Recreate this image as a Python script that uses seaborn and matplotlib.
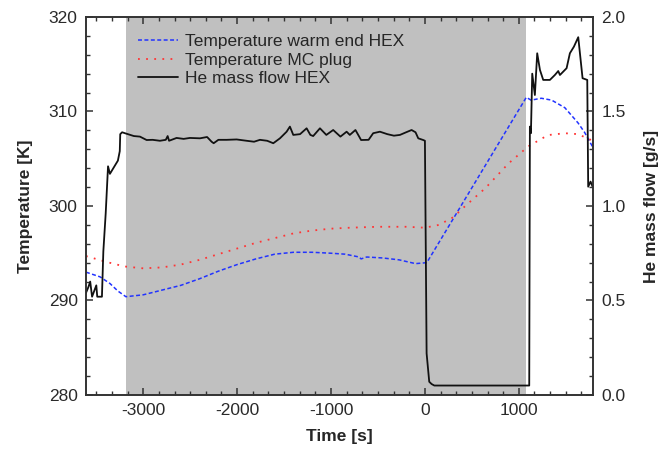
import pandas as pd
import matplotlib
matplotlib.use("Agg")
import matplotlib.pyplot as plt
from matplotlib.ticker import MultipleLocator, FormatStrFormatter
import seaborn as sns

# --- données ---
# Température côté chaud HEX [K]
t_warm = [-3610, -3460, -3355, -3270, -3185, -3000, -2800, -2600, -2400, -2200,
          -2000, -1800, -1600, -1400, -1200, -1000, -850, -700, -680, -620,
          -450, -275, -100, 20, 1080, 1130, 1240, 1350, 1490, 1630, 1700, 1789]
T_warm = [293.0, 292.5, 291.8, 291.0, 290.4, 290.6, 291.1, 291.6, 292.3, 293.1,
          293.8, 294.4, 294.9, 295.1, 295.1, 295.0, 294.9, 294.6, 294.4, 294.6,
          294.5, 294.3, 293.9, 294.0, 311.5, 311.2, 311.4, 311.2, 310.4, 308.8, 307.8, 306.2]

# Température bouchon MC [K]
t_mc = [-3610, -3400, -3200, -3000, -2800, -2600, -2400, -2200, -2000, -1800,
        -1600, -1400, -1200, -1000, -800, -500, -200, 0, 150, 300,
        430, 645, 890, 1100, 1310, 1490, 1630, 1789]
T_mc = [294.7, 294.1, 293.6, 293.4, 293.5, 293.8, 294.3, 294.9, 295.5, 296.1,
        296.6, 297.1, 297.4, 297.6, 297.7, 297.8, 297.8, 297.7, 298.0, 298.8,
        300.0, 301.9, 304.5, 306.3, 307.5, 307.7, 307.6, 306.9]

# Débit massique He HEX [g/s]
t_flow = [-3610, -3585, -3565, -3545, -3500, -3490, -3440, -3425, -3400, -3375,
          -3355, -3270, -3250, -3245, -3225, -3195, -3100, -3035, -2964, -2900,
          -2822, -2760, -2740, -2725, -2645, -2570, -2503, -2396, -2320, -2272,
          -2250, -2200, -2112, -2005, -1899, -1820, -1757, -1680, -1615, -1544,
          -1473, -1438, -1402, -1330, -1260, -1220, -1190, -1118, -1050, -977,
          -900, -834, -800, -740, -700, -680, -600, -551, -479, -400,
          -330, -266, -200, -142, -100, -71, -18, 0, 18, 46,
          71, 100, 1111, 1118, 1129, 1143, 1171, 1196, 1225, 1260,
          1331, 1384, 1420, 1438, 1509, 1544, 1587, 1633, 1651, 1679,
          1729, 1739, 1764, 1786]
flow = [0.54, 0.57, 0.60, 0.52, 0.58, 0.52, 0.52, 0.76, 0.96, 1.21,
        1.17, 1.24, 1.29, 1.38, 1.39, 1.385, 1.37, 1.367, 1.349, 1.35,
        1.345, 1.35, 1.37, 1.345, 1.36, 1.355, 1.36, 1.358, 1.365, 1.34,
        1.332, 1.35, 1.35, 1.352, 1.345, 1.34, 1.35, 1.345, 1.332, 1.358,
        1.393, 1.42, 1.376, 1.38, 1.411, 1.376, 1.37, 1.411, 1.376, 1.402,
        1.367, 1.393, 1.376, 1.402, 1.367, 1.349, 1.35, 1.385, 1.393, 1.38,
        1.372, 1.376, 1.39, 1.402, 1.39, 1.358, 1.349, 1.345, 0.22, 0.07,
        0.058, 0.05, 0.05, 1.42, 1.385, 1.70, 1.587, 1.808, 1.72, 1.667,
        1.667, 1.693, 1.714, 1.693, 1.729, 1.808, 1.843, 1.893, 1.808, 1.676,
        1.667, 1.102, 1.129, 1.102]

# zone grisée
shade_start, shade_end = -3185, 1080

df_warm = pd.DataFrame({"t": t_warm, "T": T_warm})
df_mc = pd.DataFrame({"t": t_mc, "T": T_mc})
df_flow = pd.DataFrame({"t": t_flow, "f": flow})

sns.set_style("ticks")
plt.rcParams['font.family'] = ['Liberation Sans', 'DejaVu Sans']
plt.rcParams['axes.unicode_minus'] = False

fig = plt.figure(figsize=(6.68, 4.54), dpi=100)
ax = fig.add_axes([0.1287, 0.130, 0.759, 0.8326])
ax2 = ax.twinx()

ax.axvspan(shade_start, shade_end, color='#c0c0c0', lw=0, zorder=0)

sns.lineplot(data=df_warm, x="t", y="T", ax=ax, estimator=None, sort=False,
             color='#2233ff', lw=1.1, label="Temperature warm end HEX")
sns.lineplot(data=df_mc, x="t", y="T", ax=ax, estimator=None, sort=False,
             color='#ff3535', lw=1.3, label="Temperature MC plug")
sns.lineplot(data=df_flow, x="t", y="f", ax=ax2, estimator=None, sort=False,
             color='#111111', lw=1.3, label="He mass flow HEX")
ax.lines[0].set_dashes((2.6, 1.6))
ax.lines[1].set_dashes((1, 3.5))

ax.set_xlim(-3610, 1790)
ax.set_ylim(280, 320)
ax2.set_ylim(0, 2.0)

ax.xaxis.set_major_locator(MultipleLocator(1000))
ax.xaxis.set_minor_locator(MultipleLocator(1000 / 6))
ax.yaxis.set_major_locator(MultipleLocator(10))
ax.yaxis.set_minor_locator(MultipleLocator(2))
ax2.yaxis.set_major_locator(MultipleLocator(0.5))
ax2.yaxis.set_minor_locator(MultipleLocator(0.1))
ax2.yaxis.set_major_formatter(FormatStrFormatter('%.1f'))

for a in (ax, ax2):
    a.tick_params(which='both', direction='in', color='#333333',
                  labelsize=12.5, labelcolor='#2a2a2a', pad=6)
    a.tick_params(which='major', length=5, width=1.1)
    a.tick_params(which='minor', length=3, width=1.0)
    for s in a.spines.values():
        s.set_visible(True)
        s.set_linewidth(1.2)
        s.set_color('#333333')
ax.tick_params(which='both', top=True, right=False)

ax.set_xlabel("Time [s]", fontsize=12.5, fontweight='bold', labelpad=8)
ax.set_ylabel("Temperature [K]", fontsize=12.5, fontweight='bold', labelpad=11)
ax2.set_ylabel("He mass flow [g/s]", fontsize=12.5, fontweight='bold', labelpad=13)

h1, l1 = ax.get_legend_handles_labels()
h2, l2 = ax2.get_legend_handles_labels()
ax.get_legend().remove()
ax2.get_legend().remove()
ax2.legend(h1 + h2, l1 + l2, loc='upper left', bbox_to_anchor=(0.1026, 0.955),
           frameon=False, fontsize=12.5, borderpad=0, borderaxespad=0,
           handlelength=2.3, handletextpad=0.4, labelspacing=0.2)

fig.savefig("out.png", dpi=100)
